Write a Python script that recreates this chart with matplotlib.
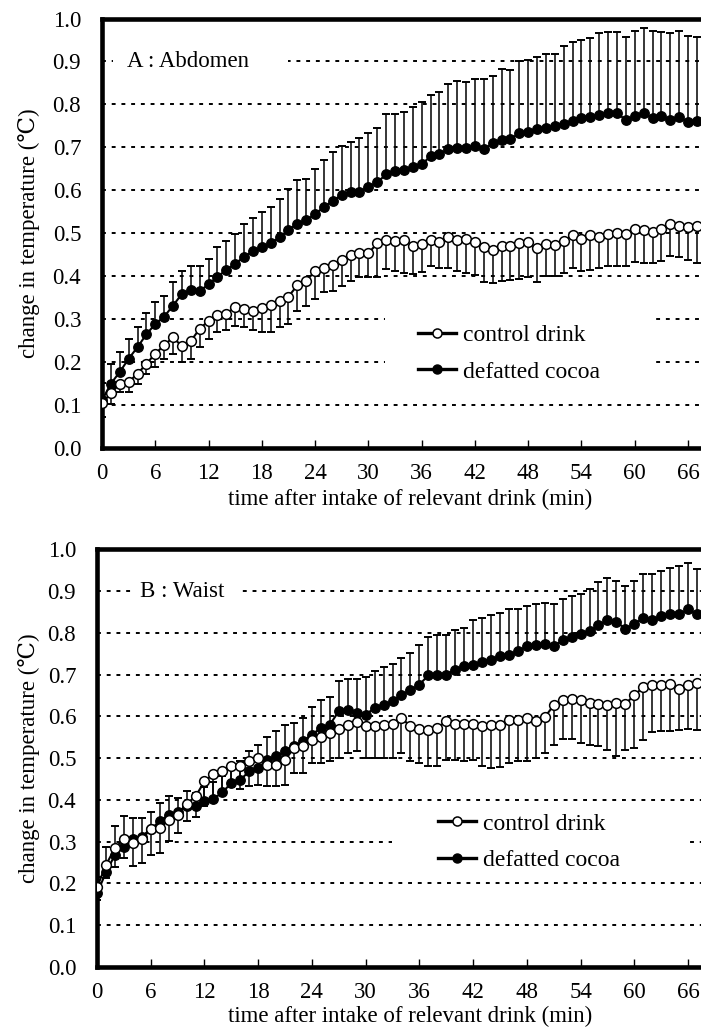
import numpy as np
import matplotlib
matplotlib.use("Agg")
import matplotlib.pyplot as plt
from matplotlib.lines import Line2D
from matplotlib.patches import Rectangle

plt.rcParams['font.family'] = ['Liberation Serif', 'DejaVu Serif', 'Noto Sans CJK JP']

# sampling times (min)
minutes = np.arange(68)

# A: abdomen
abd_cocoa = [0.110, 0.149, 0.176, 0.207, 0.234, 0.264, 0.288, 0.305, 0.331, 0.358,
             0.367, 0.364, 0.381, 0.398, 0.414, 0.428, 0.445, 0.457, 0.467, 0.476,
             0.490, 0.507, 0.522, 0.530, 0.544, 0.561, 0.575, 0.589, 0.595, 0.596,
             0.608, 0.618, 0.637, 0.645, 0.648, 0.654, 0.660, 0.679, 0.685, 0.695,
             0.698, 0.698, 0.702, 0.695, 0.709, 0.718, 0.719, 0.733, 0.736, 0.743,
             0.746, 0.749, 0.755, 0.762, 0.767, 0.770, 0.775, 0.780, 0.780, 0.763,
             0.772, 0.780, 0.768, 0.772, 0.764, 0.771, 0.758, 0.760]
abd_cocoa_sd = [0.040, 0.046, 0.046, 0.046, 0.047, 0.049, 0.051, 0.049, 0.054, 0.053,
                0.055, 0.060, 0.059, 0.069, 0.068, 0.070, 0.076, 0.078, 0.083, 0.084,
                0.089, 0.095, 0.101, 0.096, 0.105, 0.109, 0.115, 0.114, 0.118, 0.125,
                0.126, 0.128, 0.140, 0.133, 0.133, 0.140, 0.145, 0.142, 0.143, 0.152,
                0.157, 0.155, 0.157, 0.164, 0.158, 0.165, 0.160, 0.167, 0.168, 0.167,
                0.171, 0.169, 0.182, 0.183, 0.182, 0.184, 0.191, 0.188, 0.189, 0.193,
                0.198, 0.199, 0.202, 0.196, 0.203, 0.200, 0.202, 0.197]
abd_control = [0.104, 0.126, 0.149, 0.153, 0.172, 0.195, 0.219, 0.238, 0.257, 0.236,
               0.248, 0.277, 0.295, 0.308, 0.312, 0.327, 0.323, 0.319, 0.326, 0.333,
               0.341, 0.352, 0.378, 0.389, 0.411, 0.419, 0.426, 0.437, 0.449, 0.453,
               0.453, 0.476, 0.484, 0.482, 0.484, 0.470, 0.474, 0.484, 0.479, 0.491,
               0.484, 0.485, 0.478, 0.467, 0.460, 0.470, 0.470, 0.476, 0.478, 0.464,
               0.475, 0.473, 0.481, 0.495, 0.487, 0.495, 0.491, 0.497, 0.499, 0.497,
               0.509, 0.507, 0.503, 0.509, 0.520, 0.516, 0.515, 0.516]
abd_control_sd = [0.033, 0.024, 0.020, 0.024, 0.023, 0.023, 0.031, 0.031, 0.038, 0.036,
                  0.041, 0.043, 0.042, 0.039, 0.039, 0.043, 0.042, 0.045, 0.057, 0.064,
                  0.060, 0.064, 0.059, 0.058, 0.065, 0.057, 0.060, 0.060, 0.060, 0.055,
                  0.055, 0.079, 0.068, 0.070, 0.076, 0.066, 0.065, 0.061, 0.060, 0.072,
                  0.072, 0.077, 0.076, 0.080, 0.076, 0.082, 0.079, 0.084, 0.080, 0.077,
                  0.075, 0.073, 0.075, 0.076, 0.076, 0.082, 0.073, 0.075, 0.076, 0.075,
                  0.076, 0.076, 0.072, 0.074, 0.073, 0.073, 0.079, 0.085]

# B: waist
wst_cocoa = [0.176, 0.226, 0.268, 0.286, 0.306, 0.312, 0.330, 0.348, 0.364, 0.370,
             0.386, 0.386, 0.396, 0.402, 0.418, 0.440, 0.448, 0.468, 0.476, 0.496,
             0.504, 0.516, 0.528, 0.540, 0.556, 0.572, 0.580, 0.612, 0.614, 0.608,
             0.604, 0.620, 0.626, 0.636, 0.652, 0.662, 0.676, 0.698, 0.698, 0.700,
             0.712, 0.720, 0.724, 0.730, 0.736, 0.744, 0.746, 0.756, 0.768, 0.770,
             0.772, 0.768, 0.782, 0.790, 0.796, 0.804, 0.818, 0.830, 0.826, 0.810,
             0.820, 0.836, 0.830, 0.840, 0.844, 0.844, 0.856, 0.844]
wst_cocoa_sd = [0.040, 0.060, 0.070, 0.075, 0.050, 0.045, 0.040, 0.045, 0.045, 0.035,
                0.035, 0.030, 0.035, 0.040, 0.040, 0.040, 0.045, 0.050, 0.056, 0.054,
                0.060, 0.064, 0.056, 0.056, 0.066, 0.068, 0.066, 0.072, 0.076, 0.082,
                0.090, 0.088, 0.092, 0.090, 0.088, 0.090, 0.094, 0.092, 0.096, 0.094,
                0.094, 0.092, 0.106, 0.106, 0.106, 0.104, 0.110, 0.102, 0.096, 0.098,
                0.100, 0.102, 0.098, 0.098, 0.096, 0.100, 0.104, 0.102, 0.098, 0.102,
                0.104, 0.104, 0.110, 0.108, 0.112, 0.116, 0.110, 0.108]
wst_control = [0.190, 0.244, 0.284, 0.306, 0.296, 0.306, 0.330, 0.332, 0.352, 0.364,
               0.390, 0.408, 0.444, 0.462, 0.470, 0.480, 0.482, 0.492, 0.500, 0.484,
               0.484, 0.496, 0.524, 0.528, 0.544, 0.550, 0.560, 0.570, 0.580, 0.586,
               0.576, 0.576, 0.578, 0.582, 0.596, 0.576, 0.570, 0.568, 0.572, 0.588,
               0.582, 0.582, 0.582, 0.576, 0.578, 0.580, 0.592, 0.592, 0.596, 0.588,
               0.598, 0.626, 0.638, 0.642, 0.638, 0.632, 0.630, 0.626, 0.632, 0.630,
               0.650, 0.670, 0.676, 0.674, 0.678, 0.666, 0.674, 0.680]
wst_control_sd = [0.030, 0.032, 0.044, 0.046, 0.054, 0.058, 0.062, 0.060, 0.050, 0.044,
                  0.042, 0.050, 0.060, 0.060, 0.055, 0.050, 0.055, 0.060, 0.065, 0.050,
                  0.050, 0.060, 0.060, 0.064, 0.057, 0.063, 0.068, 0.070, 0.068, 0.070,
                  0.076, 0.076, 0.078, 0.082, 0.084, 0.084, 0.082, 0.088, 0.090, 0.092,
                  0.086, 0.088, 0.086, 0.094, 0.102, 0.102, 0.104, 0.100, 0.102, 0.088,
                  0.086, 0.094, 0.092, 0.096, 0.102, 0.100, 0.102, 0.106, 0.128, 0.110,
                  0.126, 0.126, 0.114, 0.110, 0.114, 0.098, 0.104, 0.112]

x_ticks = [0, 6, 12, 18, 24, 30, 36, 42, 48, 54, 60, 66]
y_ticks = [0.0, 0.1, 0.2, 0.3, 0.4, 0.5, 0.6, 0.7, 0.8, 0.9, 1.0]
series_names = ['control drink', 'defatted cocoa']
xlabel = 'time after intake of relevant drink (min)'
ylabel = 'change in temperature (\u2103)'


def draw_panel(ax, title, cocoa, cocoa_sd, control, control_sd, xmax,
               title_x, title_box, leg_xy, leg_box, ylab_x, xlab_xy):
    zeros = np.zeros(len(minutes))
    ax.set_xlim(0, xmax)
    ax.set_ylim(0, 1.0)

    ax.errorbar(minutes, cocoa, yerr=[zeros, cocoa_sd], fmt='none', ecolor='black',
                elinewidth=1.1, capsize=3.2, capthick=1.4, zorder=3)
    ax.errorbar(minutes, control, yerr=[control_sd, zeros], fmt='none', ecolor='black',
                elinewidth=1.1, capsize=3.2, capthick=1.4, zorder=3)
    ax.plot(minutes, cocoa, '-o', color='black', lw=1.5, ms=6.8,
            mfc='black', mec='black', zorder=4)
    ax.plot(minutes, control, '-o', color='black', lw=1.5, ms=7.0,
            mfc='white', mec='black', mew=1.1, zorder=5)

    ax.set_xticks(x_ticks)
    ax.set_yticks(y_ticks)
    ax.set_yticklabels(['%.1f' % v for v in y_ticks])
    ax.tick_params(axis='x', direction='in', length=6, width=1, pad=11, labelsize=16.5)
    ax.tick_params(axis='y', length=0, pad=15, labelsize=16.5)
    ax.grid(axis='y', color='black', lw=1.4, linestyle=(0, (2, 3)), zorder=0.5)
    ax.set_axisbelow(True)

    for side in ['left', 'bottom', 'top']:
        ax.spines[side].set_linewidth(3.3)
    ax.spines['right'].set_visible(False)

    # panel title with a white patch over the grid line
    ax.add_patch(Rectangle((title_box[0], 0.875), title_box[1] - title_box[0], 0.05,
                           transform=ax.transAxes, fc='white', ec='none', zorder=1))
    ax.text(title_x, 0.9, title, transform=ax.transAxes, fontsize=16.5,
            ha='left', va='center', zorder=2)

    # legend with a white patch over the grid lines
    ax.add_patch(Rectangle((leg_box[0], leg_box[2]), leg_box[1] - leg_box[0],
                           leg_box[3] - leg_box[2], transform=ax.transAxes,
                           fc='white', ec='none', zorder=1))
    handles = [Line2D([], [], color='black', lw=2.4, marker='o', ms=6.5,
                      mfc='white', mec='black', mew=1.1),
               Line2D([], [], color='black', lw=2.4, marker='o', ms=6.5,
                      mfc='black', mec='black')]
    ax.legend(handles, series_names, loc='upper left', bbox_to_anchor=leg_xy,
              frameon=False, fontsize=17, handlelength=1.6, handletextpad=0.3,
              labelspacing=0.64, borderpad=0, borderaxespad=0)

    ax.set_ylabel(ylabel, fontsize=16.5)
    ax.yaxis.set_label_coords(ylab_x, 0.5)
    ax.set_xlabel(xlabel, fontsize=16.5, va='top')
    ax.xaxis.set_label_coords(*xlab_xy)


fig = plt.figure(figsize=(7.01, 10.30), dpi=100)
ax_a = fig.add_axes([0.1455, 0.5655, 0.8545, 0.4165])
ax_b = fig.add_axes([0.1384, 0.0614, 0.8616, 0.4053])

draw_panel(ax_a, 'A : Abdomen', abd_cocoa, abd_cocoa_sd, abd_control, abd_control_sd,
           67.46, 0.0417, (0.018, 0.31), (0.5275, 0.287), (0.4725, 0.923, 0.146, 0.344),
           -0.1035, (0.514, -0.097))
draw_panel(ax_b, 'B : Waist', wst_cocoa, wst_cocoa_sd, wst_control, wst_control_sd,
           67.45, 0.0712, (0.06, 0.24), (0.5646, 0.368), (0.488, 0.982, 0.227, 0.380),
           -0.094, (0.518, -0.093))

fig.savefig('out.png', dpi=100)
